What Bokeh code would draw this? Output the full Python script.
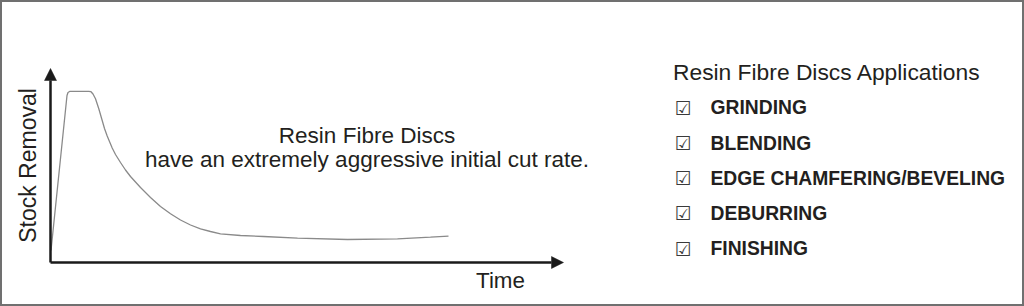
import math
from bokeh.plotting import figure
from bokeh.models import Range1d, Arrow, NormalHead, Label, ColumnDataSource
from bokeh.core.properties import value
from bokeh.embed import file_html
from bokeh.resources import INLINE

# ---- data ----
time = [0.5, 16.5, 17.5, 19.5, 38, 40.5, 42.5, 45, 48.3, 51.7, 54, 56.7, 61.7, 65, 70,
        75, 80, 90, 100, 110, 120, 130, 140, 150, 160, 170, 190, 213, 247, 297, 347,
        380, 398]
stock_removal = [12, 167, 170, 171.2, 171.2, 170.8, 168.5, 163.7, 153.7, 142, 134,
                 126.5, 114.5, 108, 100, 92.5, 86, 75, 65, 56, 48.7, 42.5, 37.5, 33.7,
                 31, 28.7, 27, 26, 24.3, 23, 23.7, 25.3, 26.3]
applications = ["GRINDING", "BLENDING", "EDGE CHAMFERING/BEVELING", "DEBURRING", "FINISHING"]
x_label = "Time"
y_label = "Stock Removal"
note_lines = ["Resin Fibre Discs", "have an extremely aggressive initial cut rate."]
panel_title = "Resin Fibre Discs Applications"

TXT = "#231f20"
FONT = "Liberation Sans"
DY = 8  # baseline correction for svg text

p = figure(width=1024, height=306, x_range=Range1d(-50, 974), y_range=Range1d(-44, 262),
           output_backend="svg", toolbar_location=None, min_border=0,
           x_axis_location=None, y_axis_location=None)
p.grid.visible = False
p.outline_line_color = "#707070"
p.outline_line_width = 3
p.background_fill_color = "white"
p.border_fill_color = "white"

# curve
p.line(time, stock_removal, line_color="#8a8a8a", line_width=1.3)

# axes with arrowheads
ax_col = "#1a1a1a"
p.add_layout(Arrow(x_start=0, y_start=0, x_end=0, y_end=194,
                   line_color=ax_col, line_width=2.5,
                   end=NormalHead(size=12, fill_color=ax_col, line_color=ax_col, line_width=0.5)))
p.add_layout(Arrow(x_start=0, y_start=0, x_end=513, y_end=0,
                   line_color=ax_col, line_width=2.5,
                   end=NormalHead(size=12, fill_color=ax_col, line_color=ax_col, line_width=0.5)))

# axis titles
p.add_layout(Label(x=450, y=-26.3 + DY, text=x_label, text_font=FONT, text_font_size="22.4px",
                   text_align="center", text_baseline="alphabetic", text_color=TXT))
p.add_layout(Label(x=-15 - DY, y=97, text=y_label, text_font=FONT, text_font_size="23px",
                   text_align="center", text_baseline="alphabetic", text_color=TXT,
                   angle=math.pi / 2, angle_units="rad"))

# note
for i, line in enumerate(note_lines):
    p.add_layout(Label(x=316.5, y=119 - 23.7 * i + DY, text=line, text_font=FONT,
                       text_font_size="22.5px", text_align="center",
                       text_baseline="alphabetic", text_color=TXT))

# right panel
p.add_layout(Label(x=622.5, y=183 + DY, text=panel_title, text_font=FONT, text_font_size="22.8px",
                   text_align="left", text_baseline="alphabetic", text_color=TXT))

ys = [146.7 - 35.2 * i + DY for i in range(len(applications))]
src = ColumnDataSource(dict(x=[660] * len(applications), y=ys, t=applications,
                            bx=[624] * len(applications), bt=["\u2611"] * len(applications)))
p.text(x="bx", y="y", text="bt", source=src, text_font=value("DejaVu Sans"),
       text_font_size="19px", text_color="#3a3a3a", text_align="left",
       text_baseline="alphabetic")
p.text(x="x", y="y", text="t", source=src, text_font=value(FONT), text_font_style="bold",
       text_font_size="19.3px", text_color=TXT, text_align="left", text_baseline="alphabetic")

open("out.html", "w").write(file_html(p, INLINE))
